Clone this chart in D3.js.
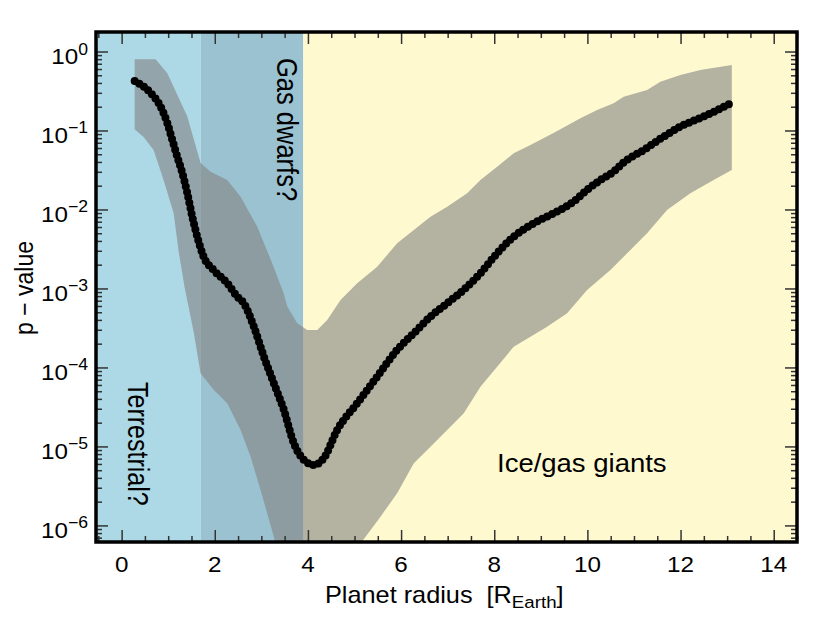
<!DOCTYPE html>
<meta charset="utf-8">
<title>p-value vs planet radius</title>
<style>

body {
  margin: 0;
  background: #fff;
}

text {
  font-family: "Liberation Sans", Arial, sans-serif;
  fill: #000;
}

.axis .tick line {
  stroke: #333;
  stroke-width: 1.5;
}

.axis .domain {
  display: none;
}

</style>
<svg width="830" height="623"></svg>
<script src="https://cdn.jsdelivr.net/npm/d3@7/dist/d3.min.js"></script>
<script>

// median p-value along planet radius
var midRadius = [0.28, 0.622, 0.837, 0.981, 1.088, 1.195, 1.303, 1.41, 1.517, 1.624, 1.76, 1.974, 2.268, 2.483, 2.624, 2.839, 3.054, 3.268, 3.483, 3.697, 3.912, 4.127, 4.341, 4.629, 5.058, 5.487, 5.916, 6.273, 6.631, 6.989, 7.418, 7.704, 8.062, 8.418, 8.848, 9.277, 9.706, 9.993, 10.279, 10.564, 10.779, 11.208, 11.637, 11.996, 12.496, 13.08];
var midP = [0.424, 0.299, 0.2, 0.124, 0.0759, 0.0466, 0.029, 0.0162, 8.11e-3, 4.53e-3, 2.53e-3, 1.71e-3, 1.17e-3, 7.87e-4, 6.5e-4, 3.28e-4, 1.37e-4, 6.31e-5, 2.9e-5, 1.1e-5, 6.75e-6, 5.83e-6, 7.1e-6, 1.62e-5, 3.52e-5, 7.66e-5, 1.67e-4, 2.71e-4, 4.4e-4, 6.5e-4, 1.05e-3, 1.56e-3, 2.79e-3, 4.53e-3, 6.68e-3, 8.95e-3, 0.0126, 0.0177, 0.0236, 0.0302, 0.0395, 0.0566, 0.0836, 0.112, 0.15, 0.221];

// upper edge of the spread
var upRadius = [0.28, 0.73, 0.981, 1.41, 1.695, 1.91, 2.268, 2.554, 2.912, 3.262, 3.476, 3.556, 3.77, 3.985, 4.2, 4.414, 4.7, 5.058, 5.487, 5.916, 6.273, 6.631, 6.989, 7.418, 7.704, 8.062, 8.418, 8.777, 9.313, 9.85, 10.208, 10.564, 10.779, 11.281, 11.567, 11.996, 12.425, 13.1];
var upP = [0.8, 0.8, 0.53, 0.15, 0.0388, 0.0301, 0.0236, 0.0145, 6.05e-3, 1.89e-3, 8.77e-4, 5.89e-4, 3.62e-4, 2.99e-4, 2.99e-4, 3.99e-4, 7.14e-4, 1.16e-3, 1.89e-3, 3.73e-3, 5.51e-3, 8.11e-3, 0.0108, 0.016, 0.0236, 0.0348, 0.0514, 0.0655, 0.0957, 0.143, 0.182, 0.221, 0.268, 0.326, 0.415, 0.505, 0.583, 0.675];

// lower edge of the spread
var loRadius = [0.28, 0.472, 0.687, 0.901, 1.116, 1.23, 1.35, 1.552, 1.695, 1.981, 2.268, 2.554, 2.768, 2.983, 3.268, 3.6, 4.4, 5.0, 5.19, 5.558, 5.916, 6.273, 6.631, 6.989, 7.346, 7.704, 8.062, 8.418, 8.777, 9.135, 9.564, 9.993, 10.494, 10.923, 11.281, 11.71, 12.21, 12.71, 13.1];
var loP = [0.104, 0.0828, 0.0566, 0.0236, 9.04e-3, 2.82e-3, 1.05e-3, 2.71e-4, 8.45e-5, 5.19e-5, 3.52e-5, 1.62e-5, 7.43e-6, 2.81e-6, 7.2e-7, 1e-7, 3e-8, 2.5e-7, 6.6e-7, 1.29e-6, 2.56e-6, 6.12e-6, 9.93e-6, 1.62e-5, 2.63e-5, 5.71e-5, 1.02e-4, 1.83e-4, 2.45e-4, 3.28e-4, 4.85e-4, 9.57e-4, 1.71e-3, 3.07e-3, 5e-3, 9.86e-3, 0.016, 0.0236, 0.0316];

// planet classes
var regionStart = [-0.55, 1.7, 3.9];
var regionEnd = [1.7, 3.9, 14.5];
var regionColor = ["#add8e6", "#9bc2d0", "#fff9d0"];

var xTicks = [0, 2, 4, 6, 8, 10, 12, 14];
var yTicks = [1e-6, 1e-5, 1e-4, 1e-3, 1e-2, 1e-1, 1];
var yTickExp = ["\u22126", "\u22125", "\u22124", "\u22123", "\u22122", "\u22121", "0"];

var svg = d3.select("svg");

var plotLeft = 96, plotRight = 797, plotTop = 32, plotBottom = 542;

var x = d3.scaleLinear()
    .domain([-0.55, 14.5])
    .range([plotLeft, plotRight]);

var y = d3.scaleLog()
    .domain([Math.pow(10, -6.21), Math.pow(10, 0.247)])
    .range([plotBottom, plotTop]);

var xMinor = d3.range(-0.5, 14.51, 0.5).filter(function(d) { return d % 2 !== 0; });
var yMinor = [];
d3.range(-7, 1).forEach(function(e) {
  d3.range(2, 10).forEach(function(m) {
    var v = m * Math.pow(10, e);
    if (v > y.domain()[0] && v < y.domain()[1]) yMinor.push(v);
  });
});

svg.append("clipPath")
    .attr("id", "plot")
  .append("rect")
    .attr("x", plotLeft)
    .attr("y", plotTop)
    .attr("width", plotRight - plotLeft)
    .attr("height", plotBottom - plotTop);

var plot = svg.append("g")
    .attr("clip-path", "url(#plot)");

plot.selectAll(".region")
    .data(regionStart)
  .enter().append("rect")
    .attr("class", "region")
    .attr("x", function(d) { return x(d); })
    .attr("y", plotTop)
    .attr("width", function(d, i) { return x(regionEnd[i]) - x(d); })
    .attr("height", plotBottom - plotTop)
    .style("fill", function(d, i) { return regionColor[i]; });

// spread band: upper edge left to right, lower edge back
var band = upRadius.map(function(r, i) { return [r, upP[i]]; })
    .concat(loRadius.map(function(r, i) { return [r, loP[i]]; }).reverse());

plot.append("path")
    .datum(band)
    .attr("d", d3.line()
        .x(function(d) { return x(d[0]); })
        .y(function(d) { return y(d[1]); }))
    .style("fill", "#828282")
    .style("fill-opacity", 0.6);

// dotted median curve
plot.append("path")
    .datum(midRadius.map(function(r, i) { return [r, midP[i]]; }))
    .attr("d", d3.line()
        .x(function(d) { return x(d[0]); })
        .y(function(d) { return y(d[1]); })
        .curve(d3.curveMonotoneX))
    .style("fill", "none")
    .style("stroke", "#000")
    .style("stroke-width", 8)
    .style("stroke-linecap", "round")
    .style("stroke-dasharray", "0 5.5");

// ticks point inwards on all four sides
function ticks(axis, values, size, tx, ty) {
  svg.append("g")
      .attr("class", "axis")
      .attr("transform", "translate(" + tx + "," + ty + ")")
      .call(axis.tickValues(values).tickSize(-size).tickFormat(""));
}

ticks(d3.axisBottom(x), xTicks, 12, 0, plotBottom);
ticks(d3.axisBottom(x), xMinor, 6, 0, plotBottom);
ticks(d3.axisTop(x), xTicks, 12, 0, plotTop);
ticks(d3.axisTop(x), xMinor, 6, 0, plotTop);
ticks(d3.axisLeft(y), yTicks, 12, plotLeft, 0);
ticks(d3.axisLeft(y), yMinor, 6, plotLeft, 0);
ticks(d3.axisRight(y), yTicks, 12, plotRight, 0);
ticks(d3.axisRight(y), yMinor, 6, plotRight, 0);

svg.append("rect")
    .attr("x", plotLeft)
    .attr("y", plotTop)
    .attr("width", plotRight - plotLeft)
    .attr("height", plotBottom - plotTop)
    .style("fill", "none")
    .style("stroke", "#000")
    .style("stroke-width", 3.5);

// tick labels
svg.selectAll(".xlabel")
    .data(xTicks)
  .enter().append("text")
    .attr("class", "xlabel")
    .attr("transform", function(d) { return "translate(" + x(d) + "," + 571.5 + ") scale(1.1,1)"; })
    .style("text-anchor", "middle")
    .style("font-size", "22px")
    .text(function(d) { return d; });

var ylab = svg.selectAll(".ylabel")
    .data(yTicks)
  .enter().append("text")
    .attr("class", "ylabel")
    .attr("transform", function(d) { return "translate(88," + (y(d) + 12.5) + ") scale(1.1,1)"; })
    .style("text-anchor", "end")
    .style("font-size", "22px");

ylab.append("tspan")
    .text("10");

ylab.append("tspan")
    .attr("dy", -9.5)
    .style("font-size", "16px")
    .text(function(d, i) { return yTickExp[i]; });

// axis titles
var xtitle = svg.append("text")
    .attr("transform", "translate(325,603) scale(1.1,1)")
    .style("font-size", "23px");

xtitle.append("tspan").text("Planet radius \u00a0[R");
xtitle.append("tspan").attr("dy", 5).style("font-size", "17px").text("Earth");
xtitle.append("tspan").attr("dy", -5).text("]");

svg.append("text")
    .attr("transform", "translate(33,288) scale(1.1,1) rotate(-90)")
    .style("text-anchor", "middle")
    .style("font-size", "23px")
    .text("p \u2212 value");

// class annotations
svg.append("text")
    .attr("transform", "translate(277,58) scale(1.15,1) rotate(90)")
    .style("font-size", "25.5px")
    .text("Gas dwarfs?");

svg.append("text")
    .attr("transform", "translate(128,382) scale(1.15,1) rotate(90)")
    .style("font-size", "25px")
    .text("Terrestrial?");

svg.append("text")
    .attr("transform", "translate(497,472) scale(1.1,1)")
    .style("font-size", "25px")
    .text("Ice/gas giants");

</script>
